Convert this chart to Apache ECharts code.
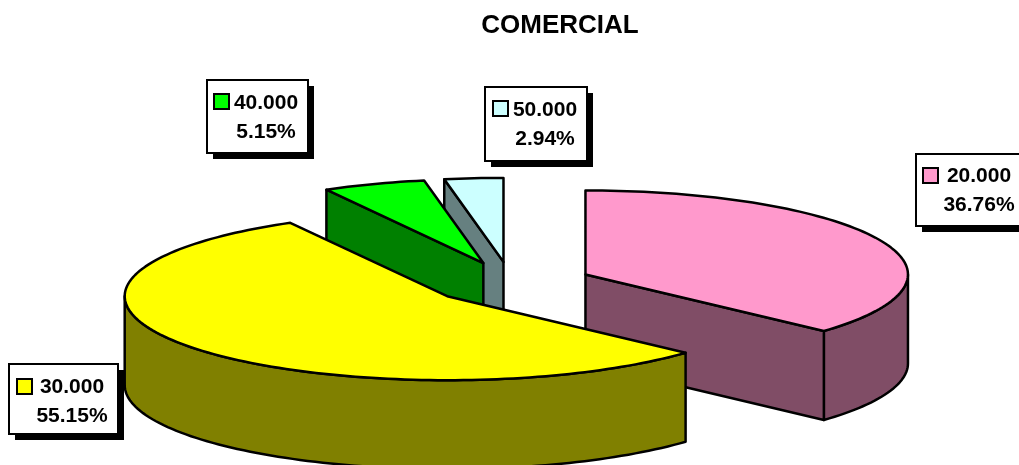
<!DOCTYPE html>
<html>
<head>
<meta charset="utf-8">
<style>html,body{margin:0;padding:0;background:#fff}#chart{width:1019px;height:465px}</style>
<script src="https://cdn.jsdelivr.net/npm/echarts@6/dist/echarts.min.js"></script>
</head>
<body>
<div id="chart"></div>
<script>
// Chart content
const chartTitle = 'COMERCIAL';
const categories = ['20.000', '30.000', '40.000', '50.000'];
const shares = [36.76, 55.15, 5.15, 2.94];

// Colours per slice: lit top surface and shaded side surface
const topColors = ['#FF99CC', '#FFFF00', '#00FF00', '#CCFFFF'];
const sideColors = ['#804D66', '#808000', '#008000', '#668080'];

// Projection of the tilted pie
const pie = { cx: 511, cy: 283, rx: 322.5, ry: 84, depth: 89, explode: 81.4 };
const tilt = pie.ry / pie.rx;
// Far slices are painted first so nearer ones cover them
const paintOrder = [3, 2, 0, 1];

// Callout boxes: left, top, right, bottom, key x, key y, text centre x, line baselines
const callouts = [
  { l: 916, t: 154, r: 1026, b: 226, kx: 923, ky: 168, tx: 979, y1: 183, y2: 212 },
  { l: 9, t: 364, r: 118, b: 434, kx: 17, ky: 379, tx: 72, y1: 394, y2: 423 },
  { l: 207, t: 80, r: 308, b: 153, kx: 214, ky: 94, tx: 266, y1: 110, y2: 139 },
  { l: 485, t: 87, r: 587, b: 161, kx: 493, ky: 101, tx: 545, y1: 117, y2: 146 }
];
const FONT = '"Liberation Sans", Arial, sans-serif';

const rad = d => d * Math.PI / 180;

// Start and end angle of each slice, clockwise from twelve o'clock
const spans = [];
shares.reduce((sum, share) => {
  spans.push([sum * 3.6, (sum + share) * 3.6]);
  return sum + share;
}, 0);

function arcPoints(ax, ay, from, to, drop) {
  const steps = Math.max(2, Math.ceil(Math.abs(to - from) / 1.5));
  const pts = [];
  for (let i = 0; i <= steps; i++) {
    const a = rad(from + (to - from) * i / steps);
    pts.push([ax + pie.rx * Math.sin(a), ay - pie.ry * Math.cos(a) + drop]);
  }
  return pts;
}

function poly(points, fill, z) {
  return {
    type: 'polygon',
    z2: z,
    shape: { points },
    style: { fill, stroke: '#000', lineWidth: 2.5, lineJoin: 'round' }
  };
}

function cutFace(ax, ay, angle, fill, z) {
  const a = rad(angle);
  const ex = ax + pie.rx * Math.sin(a);
  const ey = ay - pie.ry * Math.cos(a);
  return poly([[ax, ay], [ex, ey], [ex, ey + pie.depth], [ax, ay + pie.depth]], fill, z);
}

function renderSlice(params, api) {
  const i = api.value(0);
  const [start, end] = spans[i];
  const mid = rad((start + end) / 2);
  const ax = pie.cx + pie.explode * Math.sin(mid);
  const ay = pie.cy - pie.explode * tilt * Math.cos(mid);
  const side = sideColors[i];
  const base = paintOrder.indexOf(i) * 10;
  const children = [];

  // Outer wall faces the viewer between three and nine o'clock
  const wallFrom = Math.max(start, 90);
  const wallTo = Math.min(end, 270);
  if (wallTo > wallFrom) {
    const upper = arcPoints(ax, ay, wallFrom, wallTo, 0);
    const lower = arcPoints(ax, ay, wallFrom, wallTo, pie.depth).reverse();
    children.push(poly(upper.concat(lower), side, base + 1));
  }
  // Radial cut faces are visible only when they turn toward the viewer
  if (Math.sin(rad(start)) < -1e-6) children.push(cutFace(ax, ay, start, side, base + 2));
  if (Math.sin(rad(end)) > 1e-6) children.push(cutFace(ax, ay, end, side, base + 2));
  // Top surface
  children.push(poly([[ax, ay]].concat(arcPoints(ax, ay, start, end, 0)), topColors[i], base + 3));

  return { type: 'group', children };
}

function calloutGraphics(i) {
  const c = callouts[i];
  const text = (t, y) => ({
    type: 'text',
    style: { text: t, x: c.tx, y, textAlign: 'center', textVerticalAlign: 'bottom',
      font: 'bold 21px ' + FONT, fill: '#000' }
  });
  return [
    { type: 'rect', shape: { x: c.l + 6, y: c.t + 6, width: c.r - c.l, height: c.b - c.t }, style: { fill: '#000' } },
    { type: 'rect', shape: { x: c.l, y: c.t, width: c.r - c.l, height: c.b - c.t },
      style: { fill: '#fff', stroke: '#000', lineWidth: 2 } },
    { type: 'rect', shape: { x: c.kx, y: c.ky, width: 15, height: 15 },
      style: { fill: topColors[i], stroke: '#000', lineWidth: 2 } },
    text(categories[i], c.y1 + 4),
    text(shares[i].toFixed(2) + '%', c.y2 + 4)
  ];
}

const chart = echarts.init(document.getElementById('chart'), null, { renderer: 'canvas' });
chart.setOption({
  animation: false,
  backgroundColor: '#fff',
  title: {
    text: chartTitle,
    left: 555,
    top: 8,
    textAlign: 'center',
    textStyle: { fontFamily: FONT, fontWeight: 'bold', fontSize: 26, color: '#000' }
  },
  series: [{
    type: 'custom',
    coordinateSystem: 'none',
    renderItem: renderSlice,
    data: paintOrder.map(i => [i, shares[i]])
  }],
  graphic: { elements: categories.flatMap((c, i) => calloutGraphics(i)) }
});
</script>
</body>
</html>
